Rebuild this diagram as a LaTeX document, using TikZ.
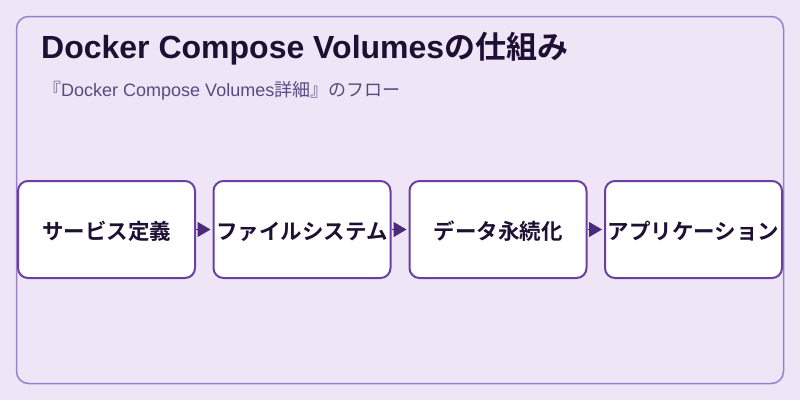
\documentclass[tikz,border=0pt]{standalone}
\usepackage{fontspec}
\setmainfont{Noto Sans CJK JP}
\newfontfamily\jpbold{Noto Sans CJK JP Bold}
\newfontfamily\latb{Liberation Sans Bold}
\newfontfamily\latr{Liberation Sans}
\usetikzlibrary{arrows.meta}
\definecolor{bgc}{HTML}{EEE6F6}
\definecolor{framec}{HTML}{9B7FCC}
\definecolor{boxc}{HTML}{6B3FA0}
\definecolor{arrc}{HTML}{4B2A7B}
\definecolor{titlec}{HTML}{1E1033}
\definecolor{subc}{HTML}{5A4A80}
\newcommand{\lowtext}[1]{\raisebox{-2pt}[\height][\depth]{#1}}
\begin{document}
\begin{tikzpicture}[x=1pt,y=-1pt,
  stepbox/.style={draw=boxc,line width=2pt,fill=white,rounded corners=10pt,minimum width=177pt,minimum height=97pt,inner sep=0pt,font=\jpbold\fontsize{21.5}{24}\selectfont,text=titlec},
  conn/.style={draw=arrc,line width=1pt,shorten >=2pt,-{Triangle[length=13pt,width=15pt]}}]
\fill[bgc] (0,0) rectangle (800,400);
\useasboundingbox (0,0) rectangle (800,400);
\draw[framec,line width=1.5pt,rounded corners=12pt] (16.5,16.5) rectangle (783.5,383.5);
\node[anchor=base west,inner sep=0pt,text=titlec] (title) at (41,58) {\latb\fontsize{32}{36}\selectfont Docker Compose Volumes\jpbold\fontsize{31}{36}\selectfont の仕組み};
\node[anchor=base west,inner sep=0pt,text=subc,font=\fontsize{18}{20}\selectfont] (sub) at (43,96) {『\latr Docker Compose Volumes\normalfont 詳細』のフロー};
\node[stepbox] (a) at (106.5,229.5) {\lowtext{サービス定義}};
\node[stepbox] (b) at (302,229.5) {\lowtext{ファイルシステム}};
\node[stepbox] (c) at (498,229.5) {\lowtext{データ永続化}};
\node[stepbox] (d) at (693.5,229.5) {\lowtext{アプリケーション}};
\draw[conn] (a) -- (b);
\draw[conn] (b) -- (c);
\draw[conn] (c) -- (d);
\end{tikzpicture}
\end{document}
